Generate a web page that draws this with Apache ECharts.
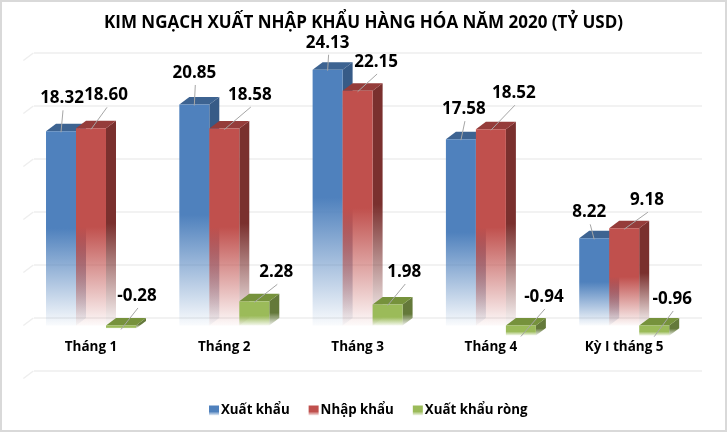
<!DOCTYPE html>
<html><head><meta charset="utf-8">
<style>html,body{margin:0;padding:0;background:#fff}#c{width:727px;height:432px}</style>
<script src="https://cdn.jsdelivr.net/npm/echarts@6/dist/echarts.min.js"></script>
</head><body><div id="c"></div>
<script>
const categories = ['Tháng 1','Tháng 2','Tháng 3','Tháng 4','Kỳ I tháng 5'];
const exportsV = [18.32,20.85,24.13,17.58,8.22];
const importsV = [18.60,18.58,22.15,18.52,9.18];
const netV = [-0.28,2.28,1.98,-0.94,-0.96];
const valueTicks = [-5,0,5,10,15,20,25];
const titleText = 'KIM NGẠCH XUẤT NHẬP KHẨU HÀNG HÓA NĂM 2020 (TỶ USD)';
// label centre relative to the bar's value point, in px
const exportsLabelShift = [[1,-33],[0,-31.5],[0,-27],[3,-30],[-5,-26]];
const importsLabelShift = [[15,-33],[25.5,-33.5],[18.5,-28.7],[23,-36],[22.7,-28]];
const netLabelShift = [[16,-32.5],[22,-29],[16.7,-32.5],[23,-38.5],[18,-36.7]];

const FONT = '"Open Sans"';
const DX = 10, DY = 7.5, BAR = 0.225;
function fade(rgb, solid, endA){
  return {type:'linear',x:0,y:0,x2:0,y2:1,colorStops:[
    {offset:0,color:`rgba(${rgb},1)`},{offset:solid,color:`rgba(${rgb},1)`},{offset:1,color:`rgba(${rgb},${endA})`}]};
}
function makeBars(idx, values, shifts, c){
  return function(params, api){
    const i = api.value(0), v = api.value(1);
    const band = api.size([1,0])[0], w = band*BAR;
    const cx = api.coord([i,0])[0] + (idx-1)*w;
    const y0 = api.coord([i,0])[1], yv = api.coord([i,v])[1];
    const top = Math.min(y0,yv), bot = Math.max(y0,yv);
    const x1 = cx-w/2, x2 = cx+w/2;
    const fr = fade(c.front,c.solid,c.endA), sd = fade(c.side,c.solid,c.endA);
    const s = shifts[i];
    const lx = cx+s[0], ly = yv+s[1];
    return {type:'group',children:[
      {type:'polygon',shape:{points:[[x2,top],[x2+DX,top-DY],[x2+DX,bot-DY],[x2,bot]]},style:{fill:sd}},
      {type:'polygon',shape:{points:[[x1,top],[x1+DX,top-DY],[x2+DX,top-DY],[x2,top]]},style:{fill:`rgb(${c.top})`}},
      {type:'rect',shape:{x:x1,y:top,width:w,height:bot-top},style:{fill:fr}},
      {type:'line',z2:50,shape:{x1:cx,y1:yv+1,x2:lx+1,y2:ly+12},style:{stroke:'#a6a6a6',lineWidth:1}},
      {type:'text',z2:60,style:{text:String(v.toFixed(2)),x:lx,y:ly,align:'center',verticalAlign:'middle',
        font:`bold 17px ${FONT}`,fill:'#000'}}
    ]};
  };
}
const styles = [
 {front:'79,129,189',top:'61,99,145',side:'55,91,135',solid:.5,endA:.03},
 {front:'192,80,77',top:'149,60,58',side:'122,48,46',solid:.5,endA:.03},
 {front:'155,187,89',top:'118,146,60',side:'100,121,58',solid:.6,endA:.1}
];
const names = ['Xuất khẩu','Nhập khẩu','Xuất khẩu ròng'];
const vals = [exportsV,importsV,netV], shifts=[exportsLabelShift,importsLabelShift,netLabelShift];
const series = names.map((n,k)=>({
  name:n,type:'custom',xAxisIndex:0,yAxisIndex:0,z:5+k,
  renderItem:makeBars(k,vals[k],shifts[k],styles[k]),
  itemStyle:{color:fade(styles[k].front,.6,.1)},
  encode:{x:0,y:1},
  data:vals[k].map((v,i)=>[i,v])
}));
series.unshift({
  type:'custom',xAxisIndex:0,yAxisIndex:0,z:1,silent:true,
  renderItem(p,api){
    const y=api.coord([0,api.value(1)])[1], x=p.coordSys.x;
    return {type:'line',shape:{x1:x-1,y1:y,x2:x+9,y2:y-DY},style:{stroke:'#eeeeee',lineWidth:1.5}};
  },
  data:valueTicks.map(v=>[0,v])
});
const chart = echarts.init(document.getElementById('c'),null,{renderer:'canvas'});
chart.setOption({
  animation:false,backgroundColor:'#fff',
  title:{text:titleText,left:'center',top:15,textStyle:{fontFamily:FONT,fontWeight:'bold',fontSize:17,color:'#000'},padding:0},
  legend:{data:names,left:204,top:399,itemWidth:10,itemHeight:10,itemGap:19,icon:'rect',
    textStyle:{fontFamily:FONT,fontWeight:'bold',fontSize:13.3,color:'#000',padding:[0,0,0,-3]}},
  grid:[{left:24.35,width:666.5,top:60.5,height:318},{left:34,width:668,top:53,height:318}],
  xAxis:[
    {type:'category',gridIndex:0,data:categories,position:'bottom',offset:-49,axisTick:{show:false},
      axisLine:{show:false,onZero:false},
      axisLabel:{interval:0,margin:11,fontFamily:FONT,fontWeight:'bold',fontSize:13.5,color:'#000'},splitLine:{show:false}},
    {type:'value',gridIndex:1,show:false,min:0,max:1}
  ],
  yAxis:[
    {type:'value',gridIndex:0,min:-5,max:25,interval:5,show:false,splitLine:{show:false}},
    {type:'value',gridIndex:1,min:-5,max:25,interval:5,axisLabel:{show:false},axisLine:{show:false},axisTick:{show:false},
      splitLine:{show:true,lineStyle:{color:'#eeeeee',width:1.5}}}
  ],
  graphic:[{type:'rect',silent:true,z:-1,shape:{x:1,y:1,width:725,height:430},style:{fill:'none',stroke:'#d9d9d9',lineWidth:2}}],
  series
});
</script></body></html>
